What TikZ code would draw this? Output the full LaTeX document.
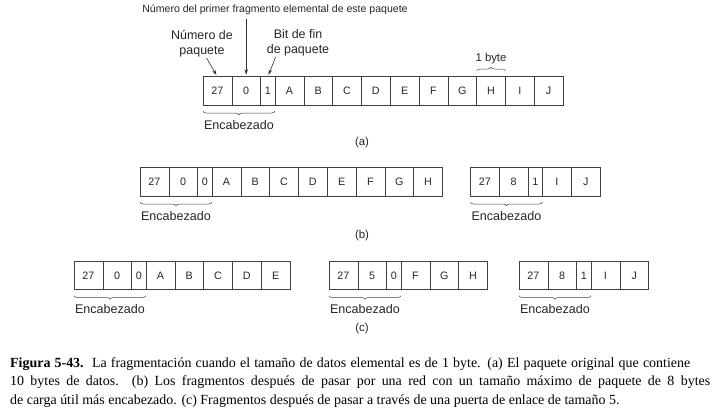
\documentclass[tikz,border=0pt]{standalone}
\usepackage{fontspec}
\setmainfont{Liberation Serif}
\setsansfont{Liberation Sans}
\usetikzlibrary{arrows.meta,positioning,decorations.pathreplacing}

\tikzset{
  cell/.style={draw=black!75, line width=0.6bp, minimum width=28.8bp, minimum height=28.5bp,
    inner sep=0pt, outer sep=0pt, text=black!85, font=\sffamily\fontsize{10.8}{12}\selectfont},
  bitcell/.style={cell, minimum width=14.4bp},
  lbl/.style={font=\sffamily\fontsize{12.5}{15}\selectfont, align=center, inner sep=0pt, text=black!85},
  flecha/.style={-{Stealth[length=5.5bp,width=3.5bp]}, draw=black!80, line width=0.6bp},
  llave/.style={decorate, decoration={brace, amplitude=3.5bp}, draw=black!75, line width=0.5bp},
  llaveabajo/.style={decorate, decoration={brace, mirror, amplitude=3.5bp}, draw=black!75, line width=0.5bp},
  leyenda/.style={anchor=base west, inner sep=0pt, font=\fontsize{14}{18.5}\selectfont}
}

% un paquete: nombre, posicion, desplazamiento, bit de fin, bytes de datos
\newcommand{\paquete}[5]{%
  \node[cell, anchor=west] (#1num) at #2 {27};
  \node[cell, right=0pt of #1num] (#1off) {#3};
  \node[bitcell, right=0pt of #1off] (#1fin) {#4};
  \foreach \l [remember=\l as \p (initially fin)] in {#5}
    {\node[cell, right=0pt of #1\p] (#1\l) {\l};}
  \draw[llaveabajo] ([yshift=-6bp]#1num.south west) -- ([yshift=-6bp]#1fin.south east)
    node[midway, below=8.5bp, lbl, font=\sffamily\fontsize{12.6}{15}\selectfont] (#1enc) {Encabezado};
}

\begin{document}
\begin{tikzpicture}[x=1bp, y=-1bp]
  \useasboundingbox (0,0) rectangle (712,409);

  % (a) paquete original
  \paquete{a}{(203,91)}{0}{1}{A,...,J}
  \node[lbl, font=\sffamily\fontsize{10.6}{12}\selectfont] (fragnum) at (275,10) {Número del primer fragmento elemental de este paquete};
  \node[lbl] (numpaq) at (202,43.5) {Número de\\paquete};
  \node[lbl] (bitfin) at (298,42.5) {Bit de fin\\de paquete};
  \draw[flecha, shorten <=4bp, shorten >=2bp] (fragnum.south -| aoff.north) -- (aoff.north);
  \draw[flecha, shorten <=1bp, shorten >=2bp] ([xshift=4bp]numpaq.south) -- (anum.north);
  \draw[flecha, shorten <=1bp, shorten >=2bp] ([xshift=-22bp]bitfin.south) -- (afin.north);
  \draw[llave] ([yshift=6bp]aH.north west) -- ([yshift=6bp]aH.north east)
    node[midway, above=7bp, lbl, font=\sffamily\fontsize{11.4}{14}\selectfont] (byte) {1 byte};
  \node[lbl, font=\sffamily\fontsize{11.5}{14}\selectfont] (capa) at (362,143) {(a)};

  % (b) red con paquete maximo de 8 bytes
  \paquete{bi}{(140,182)}{0}{0}{A,...,H}
  \paquete{bii}{(470.5,182)}{8}{1}{I,J}
  \node[lbl, font=\sffamily\fontsize{11.5}{14}\selectfont] (capb) at (362,236) {(b)};

  % (c) puerta de enlace de tamano 5
  \paquete{ci}{(74,275.5)}{0}{0}{A,...,E}
  \paquete{cii}{(329,275.5)}{5}{0}{F,G,H}
  \paquete{ciii}{(519,275.5)}{8}{1}{I,J}
  \node[lbl, font=\sffamily\fontsize{11.5}{14}\selectfont] (capc) at (362,329) {(c)};

  % pie de figura
  \node[leyenda] (pie1) at (10,367) {\hbox to 680bp{\textbf{Figura 5-43.}\ \ La fragmentación cuando el tamaño de datos elemental es de 1 byte. (a) El paquete original que contiene}};
  \node[leyenda] (pie2) at (10,385.5) {\hbox to 700bp{10 bytes de datos. (b) Los fragmentos después de pasar por una red con un tamaño máximo de paquete de 8 bytes}};
  \node[leyenda] (pie3) at (10,404) {de carga útil más encabezado. (c) Fragmentos después de pasar a través de una puerta de enlace de tamaño 5.};
\end{tikzpicture}
\end{document}
